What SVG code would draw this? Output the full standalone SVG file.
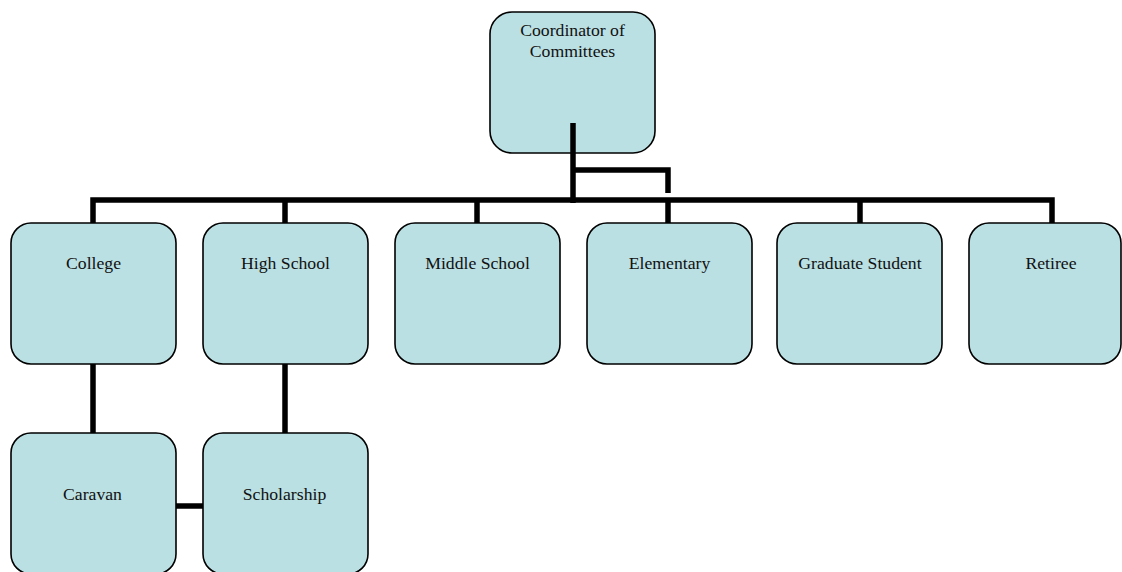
<svg xmlns="http://www.w3.org/2000/svg" width="1122" height="572" viewBox="0 0 1122 572">
<style>
.box{fill:#BAE0E3;stroke:#000;stroke-width:1.6}
.lbl{font-size:17.7px;fill:#111;text-anchor:middle}
.conn{fill:none;stroke:#000;stroke-width:5.5;stroke-linecap:butt;stroke-linejoin:miter}
</style>
<rect width="1122" height="572" fill="#fff"/>
<g id="coordinator">
<rect class="box" x="490" y="12" width="165" height="141" rx="22"/>
<text class="lbl" font-family="Liberation Serif, Times New Roman, DejaVu Serif, serif" x="572.5" y="36">Coordinator of</text>
<text class="lbl" font-family="Liberation Serif, Times New Roman, DejaVu Serif, serif" x="572.5" y="57">Committees</text>
</g>
<g id="college">
<rect class="box" x="11" y="223" width="165" height="141" rx="20"/>
<text class="lbl" font-family="Liberation Serif, Times New Roman, DejaVu Serif, serif" x="93.5" y="269">College</text>
</g>
<g id="highschool">
<rect class="box" x="203" y="223" width="165" height="141" rx="20"/>
<text class="lbl" font-family="Liberation Serif, Times New Roman, DejaVu Serif, serif" x="285.5" y="269">High School</text>
</g>
<g id="middleschool">
<rect class="box" x="395" y="223" width="165" height="141" rx="20"/>
<text class="lbl" font-family="Liberation Serif, Times New Roman, DejaVu Serif, serif" x="477.5" y="269">Middle School</text>
</g>
<g id="elementary">
<rect class="box" x="587" y="223" width="165" height="141" rx="20"/>
<text class="lbl" font-family="Liberation Serif, Times New Roman, DejaVu Serif, serif" x="669.5" y="269">Elementary</text>
</g>
<g id="graduate">
<rect class="box" x="777" y="223" width="165" height="141" rx="20"/>
<text class="lbl" font-family="Liberation Serif, Times New Roman, DejaVu Serif, serif" x="860" y="269">Graduate Student</text>
</g>
<g id="retiree">
<rect class="box" x="969" y="223" width="152" height="141" rx="20"/>
<text class="lbl" font-family="Liberation Serif, Times New Roman, DejaVu Serif, serif" x="1051" y="269">Retiree</text>
</g>
<g id="caravan">
<rect class="box" x="11" y="433" width="165" height="141" rx="20"/>
<text class="lbl" font-family="Liberation Serif, Times New Roman, DejaVu Serif, serif" x="92.5" y="500">Caravan</text>
</g>
<g id="scholarship">
<rect class="box" x="203" y="433" width="165" height="141" rx="20"/>
<text class="lbl" font-family="Liberation Serif, Times New Roman, DejaVu Serif, serif" x="284.5" y="500">Scholarship</text>
</g>
<g id="connectors">
<path class="conn" d="M573,123 V203"/>
<path class="conn" d="M573,170 H668 V193"/>
<path class="conn" d="M93,223 V200 H1052 V223"/>
<path class="conn" d="M285,200 V223"/>
<path class="conn" d="M477,200 V223"/>
<path class="conn" d="M668,200 V223"/>
<path class="conn" d="M860,200 V223"/>
<path class="conn" d="M93,364 V433"/>
<path class="conn" d="M285,364 V433"/>
<path class="conn" d="M176,506 H203"/>
</g>
</svg>
